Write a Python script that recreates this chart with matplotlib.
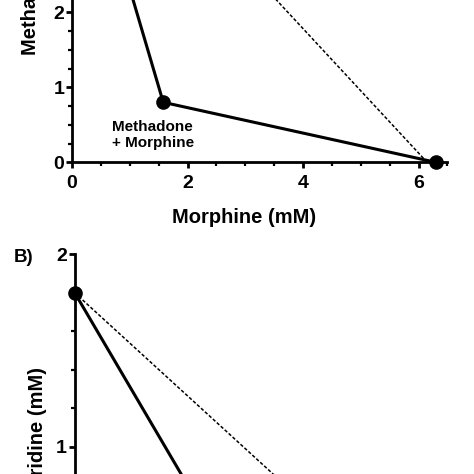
import matplotlib
matplotlib.use("Agg")
import matplotlib.pyplot as plt
from matplotlib.ticker import MultipleLocator

plt.rcParams['font.family'] = ['Liberation Sans', 'DejaVu Sans']
plt.rcParams['font.weight'] = 'bold'

# Panel A: methadone + morphine isobologram
a_obs_morphine = [0.0, 1.58, 6.3]
a_obs_methadone = [4.93, 0.8, 0.0]
a_add_morphine = [0.0, 6.15]
a_add_methadone = [5.1, 0.0]

# Panel B: meperidine + morphine isobologram
b_obs_morphine = [0.0, 2.6, 6.56]
b_obs_meperidine = [1.8, 0.47, 0.0]
b_add_morphine = [0.0, 6.56]
b_add_meperidine = [1.8, 0.0]

W = H = 474.0
fig = plt.figure(figsize=(4.74, 4.74), dpi=100)

def px_axes(x0, ytop_px, w, h):
    return fig.add_axes([x0 / W, (H - ytop_px - h) / H, w / W, h / H])

xs = 57.75  # px per x unit
axA = px_axes(72.0, 162.3 - 5 * 75.0, 6.5 * xs, 5 * 75.0)
axB = px_axes(74.7, 254.3, 6.5 * xs, 2 * 192.3)

for ax in (axA, axB):
    for s in ('top', 'right'):
        ax.spines[s].set_visible(False)
    for s in ('left', 'bottom'):
        ax.spines[s].set_linewidth(2.0)
    ax.set_xlim(0, 6.5)
    ax.xaxis.set_major_locator(MultipleLocator(2))
    ax.xaxis.set_minor_locator(MultipleLocator(0.5))
    ax.tick_params(which='major', length=4.5, width=2.0, labelsize=14)
    ax.tick_params(which='minor', length=3, width=1.6)
    ax.tick_params(axis='x', which='major', pad=5)
    ax.tick_params(axis='y', which='major', pad=1)

axA.set_ylim(0, 5)
axA.yaxis.set_major_locator(MultipleLocator(1))
axA.yaxis.set_minor_locator(MultipleLocator(0.25))
axB.set_ylim(0, 2)
axB.yaxis.set_major_locator(MultipleLocator(1))
axB.yaxis.set_minor_locator(MultipleLocator(0.2))

# Panel A marks
axA.plot(a_add_morphine, a_add_methadone, color='black', lw=1.1,
         linestyle=(0, (2.2, 1.3)), clip_on=False)
axA.plot(a_obs_morphine, a_obs_methadone, color='black', lw=2.2,
         marker='o', markersize=9.5, clip_on=False, zorder=5)
axA.text(0.69, 0.57, 'Methadone\n+ Morphine', fontsize=11, fontweight='bold',
         va='top', ha='left', linespacing=1.25)

# Panel B marks
axB.plot(b_add_morphine, b_add_meperidine, color='black', lw=1.1,
         linestyle=(0, (2.2, 1.3)), clip_on=False)
axB.plot(b_obs_morphine, b_obs_meperidine, color='black', lw=2.2,
         marker='o', markersize=9.5, clip_on=False, zorder=5)

for ax in (axA, axB):
    for lab in ax.get_xticklabels() + ax.get_yticklabels():
        lab.set_fontweight('bold')

# Axis labels
fig.text(244 / W, 1 - 218 / H, 'Morphine (mM)', fontsize=14.5, fontweight='bold',
         ha='center', va='center')
axA.set_ylabel('Methadone (mM)', fontsize=14.5, fontweight='bold')
axA.yaxis.set_label_coords(-(72 - 31) / (6.5 * xs), 0.5)
axA.yaxis.label.set_va('center')
axB.set_ylabel('Meperidine (mM)', fontsize=14.5, fontweight='bold')
axB.yaxis.set_label_coords(-(74.7 - 38) / (6.5 * xs), 0.5)
axB.yaxis.label.set_va('center')
fig.text(24 / W, 1 - 257 / H, 'B)', fontsize=13.5, fontweight='bold',
         ha='center', va='center')

fig.savefig('out.png', dpi=100)
